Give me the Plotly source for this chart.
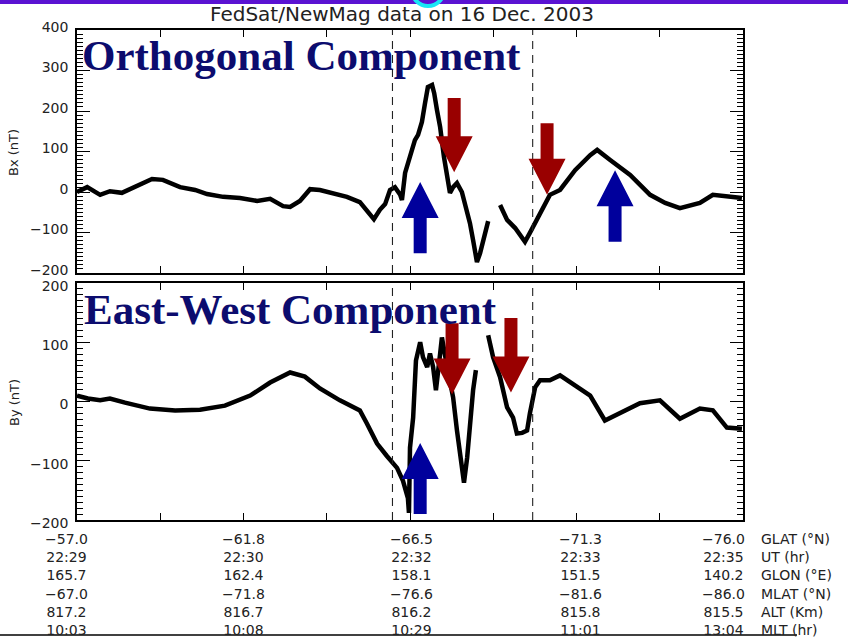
import plotly.graph_objects as go

W, H = 848, 638

# ---- FedSat / NewMag pass, 16 Dec 2003: residual field vs geographic latitude ----
glat_bx = [-57.00, -57.29, -57.66, -57.94, -58.28, -58.71, -59.14, -59.45, -59.94, -60.37,
           -60.71, -61.17, -61.65, -62.14, -62.51, -62.88, -63.08, -63.36, -63.65, -63.93,
           -64.30, -64.70, -65.07, -65.30, -65.47, -65.64, -65.79, -65.93, -66.07, -66.22,
           -66.27, -66.36, -66.50, -66.64, -66.73, -66.84, -66.93, -67.01, -67.13, -67.19,
           -67.27, -67.36, -67.47, -67.56, -67.64, -67.73, -67.84, -67.98, -68.10, -68.21,
           -68.30, -68.41, -68.50, -68.61, -68.73, -68.90,
           -69.07, -69.27, -69.50, -69.78, -69.92, -70.21, -70.49, -70.78, -71.21, -71.64,
           -71.84, -72.21, -72.78, -73.35, -73.78, -74.20, -74.77, -75.14, -75.54, -75.97]
bx = [0, 12, -7, 2, -2, 15, 32, 30, 12, 5,
      -5, -12, -15, -22, -17, -35, -37, -22, 7, 5,
      -2, -12, -25, -49, -67, -44, -30, 5, 12, -7,
      -20, 47, 86, 128, 141, 173, 220, 259, 264, 244,
      202, 160, 86, 30, -2, 12, 22, 0, -37, -77,
      -119, -173, -151, -111, -72, None,
      -32, -69, -89, -123, -101, -52, -7, 5, 54, 91,
      104, 79, 42, -7, -27, -40, -27, -7, -12, -15]

glat_by = [-57.00, -57.31, -57.66, -57.94, -58.37, -59.08, -59.80, -60.51, -61.22, -61.94,
           -62.51, -63.08, -63.50, -63.93, -64.50, -65.07, -65.27, -65.56, -65.84, -66.13,
           -66.30, -66.44, -66.47, -66.50, -66.59, -66.64, -66.67, -66.79, -66.87, -66.99,
           -67.07, -67.16, -67.24, -67.36, -67.41, -67.56, -67.73, -67.84, -67.93, -68.04,
           -68.13, -68.21, -68.30, -68.38, -68.55,
           -68.73, -68.87, -69.07, -69.27, -69.44, -69.55, -69.70, -69.84, -69.92, -70.07,
           -70.21, -70.49, -70.78, -71.21, -71.64, -72.06, -72.49, -73.06, -73.63, -74.20,
           -74.77, -75.14, -75.54, -75.97]
by = [10, 5, 2, 5, -2, -12, -15, -14, -7, 10,
      32, 49, 42, 22, 2, -15, -37, -71, -92, -112,
      -134, -163, -188, -78, -27, 19, 69, 100, 75, 58,
      81, 58, 19, 81, 108, 58, 7, -49, -88, -137,
      -95, -37, 19, 53, None,
      112, 75, 41, -10, -27, -54, -53, -49, -20, 24,
      36, 36, 44, 27, 10, -32, -19, -3, 2, -29,
      -12, -15, -44, -46]

# field-aligned current boundaries (dashed)
boundaries = [-66.0, -70.0]

# x ticks every 2.375 deg of latitude, labelled on every second one
glat_tick_vals = [-57.0 - 2.375 * k for k in range(9)]
label_glat = glat_tick_vals[::2]

row_names = ["GLAT (°N)", "UT (hr)", "GLON (°E)", "MLAT (°N)", "ALT (Km)", "MLT (hr)"]
glat_labels = ["−57.0", "−61.8", "−66.5", "−71.3", "−76.0"]
ut_labels = ["22:29", "22:30", "22:32", "22:33", "22:35"]
glon_labels = ["165.7", "162.4", "158.1", "151.5", "140.2"]
mlat_labels = ["−67.0", "−71.8", "−76.6", "−81.6", "−86.0"]
alt_labels = ["817.2", "816.7", "816.2", "815.8", "815.5"]
mlt_labels = ["10:03", "10:08", "10:29", "11:01", "13:04"]
table_rows = [glat_labels, ut_labels, glon_labels, mlat_labels, alt_labels, mlt_labels]

# arrows: (axis, glat, tip value, tail value, colour)
RED, BLUE = "#990000", "#00009c"
arrows = [
    ("y", -66.79, 25, -151, BLUE),
    ("y", -67.76, 49, 232, RED),
    ("y", -70.41, -7, 170, RED),
    ("y", -72.35, 54, -123, BLUE),
    ("y2", -66.79, -70, -190, BLUE),
    ("y2", -67.70, 12, 132, RED),
    ("y2", -69.38, 15, 141, RED),
]

# ---- layout geometry (pixels) ----
X0, X1 = 77, 743
TOP_Y0, TOP_Y1 = 30, 273      # top panel, screen px (top, bottom)
BOT_Y0, BOT_Y1 = 283, 520
BX_RANGE = [-200, 400]
BY_RANGE = [-200, 200]
X_RANGE = [-57.0, -76.0]


def px(v):
    return v / W


def py(v):
    return 1 - v / H


px_per_deg = (X1 - X0) / abs(X_RANGE[1] - X_RANGE[0])
px_per_unit = {
    "y": (TOP_Y1 - TOP_Y0) / (BX_RANGE[1] - BX_RANGE[0]),
    "y2": (BOT_Y1 - BOT_Y0) / (BY_RANGE[1] - BY_RANGE[0]),
}

TICK_FONT = dict(family="DejaVu Sans", size=14, color="#222")
TABLE_FONT = dict(family="DejaVu Sans", size=14, color="#222")

fig = go.Figure()
fig.add_trace(go.Scatter(x=glat_bx, y=bx, mode="lines", connectgaps=False,
                         line=dict(color="black", width=4.5), xaxis="x", yaxis="y",
                         hoverinfo="skip"))
fig.add_trace(go.Scatter(x=glat_by, y=by, mode="lines", connectgaps=False,
                         line=dict(color="black", width=4.5), xaxis="x2", yaxis="y2",
                         hoverinfo="skip"))
# empty traces so the minor-tick overlay axes get drawn
fig.add_trace(go.Scatter(x=[None], y=[None], xaxis="x", yaxis="y3", showlegend=False))
fig.add_trace(go.Scatter(x=[None], y=[None], xaxis="x2", yaxis="y4", showlegend=False))

xcommon = dict(range=X_RANGE, domain=[px(X0), px(X1)], tickmode="array",
               tickvals=glat_tick_vals, ticks="inside", ticklen=7, tickwidth=1.2,
               tickcolor="black", showticklabels=False, showline=True,
               linecolor="black", linewidth=1.5, mirror="ticks", showgrid=False,
               zeroline=False, automargin=False)


def ycommon(rng, dom, shift):
    return dict(range=rng, domain=dom, tickmode="linear", tick0=0, dtick=100,
                ticks="inside", ticklen=13, tickwidth=1.2, tickcolor="black",
                showline=True, linecolor="black", linewidth=1.5, mirror="ticks",
                showgrid=False, zeroline=False, tickfont=TICK_FONT,
                ticklabelstandoff=4, ticklabelshift=shift, automargin=False)


def yminor(rng, base, anchor):
    return dict(range=rng, overlaying=base, anchor=anchor, side="left",
                tickmode="linear", tick0=0, dtick=10, ticks="inside", ticklen=6,
                tickwidth=1, tickcolor="black", showticklabels=False,
                showline=False, mirror="ticks", showgrid=False, zeroline=False,
                automargin=False)


fig.update_layout(
    template="none",
    width=W, height=H, autosize=False,
    margin=dict(l=0, r=0, t=0, b=0, pad=0, autoexpand=False),
    paper_bgcolor="white", plot_bgcolor="white", showlegend=False,
    xaxis=dict(anchor="y", **xcommon),
    xaxis2=dict(anchor="y2", matches="x", **xcommon),
    yaxis=dict(anchor="x", **ycommon(BX_RANGE, [py(TOP_Y1), py(TOP_Y0)], -3)),
    yaxis2=dict(anchor="x2", **ycommon(BY_RANGE, [py(BOT_Y1), py(BOT_Y0)], 3)),
    yaxis3=yminor(BX_RANGE, "y", "x"),
    yaxis4=yminor(BY_RANGE, "y2", "x2"),
)

shapes = []
# banner strip along the top edge
shapes.append(dict(type="rect", xref="paper", yref="paper", x0=0, x1=1,
                   y0=py(4), y1=1, fillcolor="#5a12d2", line=dict(width=0), layer="above"))
shapes.append(dict(type="circle", xref="paper", yref="paper",
                   x0=px(412), x1=px(444), y0=py(6), y1=py(-26),
                   line=dict(color="#18e6f5", width=4), layer="above"))
# rule under the table
shapes.append(dict(type="line", xref="paper", yref="paper", x0=0, x1=px(797),
                   y0=py(635), y1=py(635), line=dict(color="black", width=1.5)))

# dashed boundaries through both panels
for xa, ya in (("x", "y"), ("x2", "y2")):
    for b in boundaries:
        shapes.append(dict(type="line", xref=xa, yref=f"{ya} domain", x0=b, x1=b,
                           y0=0, y1=1, line=dict(color="#222", width=1.1, dash="8px,6px")))

# block arrows
HEAD_LEN, HEAD_HW, SHAFT_HW = 36, 18.5, 6.5
for ya, gx, tip, tail, col in arrows:
    sgn = 1 if tail > tip else -1
    base = tip + sgn * HEAD_LEN / px_per_unit[ya]
    hh = HEAD_HW / px_per_deg
    sh = SHAFT_HW / px_per_deg
    path = (f"M {gx - sh},{tail} L {gx + sh},{tail} L {gx + sh},{base} "
            f"L {gx + hh},{base} L {gx},{tip} L {gx - hh},{base} "
            f"L {gx - sh},{base} Z")
    xa = "x" if ya == "y" else "x2"
    shapes.append(dict(type="path", xref=xa, yref=ya, path=path, fillcolor=col,
                       line=dict(width=0), layer="above"))

fig.update_layout(shapes=shapes)

ann = []
ann.append(dict(text="FedSat/NewMag data on 16 Dec. 2003", xref="paper", yref="paper",
                x=px(402), y=py(14), xanchor="center", yanchor="middle", showarrow=False,
                font=dict(family="DejaVu Sans", size=20, color="#222")))
big = dict(family="Liberation Serif", size=43, color="#0c0c6e")
ann.append(dict(text="<b>Orthogonal Component</b>", xref="paper", yref="paper",
                x=px(80), y=py(55), xanchor="left", yanchor="middle",
                showarrow=False, font=big))
ann.append(dict(text="<b>East-West Component</b>", xref="paper", yref="paper",
                x=px(82), y=py(309), xanchor="left", yanchor="middle",
                showarrow=False, font=big))
for label, yc in (("Bx (nT)", 153), ("By (nT)", 403)):
    ann.append(dict(text=label, xref="paper", yref="paper", x=px(14), y=py(yc),
                    xanchor="center", yanchor="middle", textangle=-90, showarrow=False,
                    font=dict(family="DejaVu Sans", size=13, color="#222")))

# ephemeris table: one column of stacked values under each labelled tick
TABLE_TOP = 530
col_shift = [-11, 0, 1, 4, -20]
for c, gx in enumerate(label_glat):
    txt = "<br>".join(row[c] for row in table_rows)
    ann.append(dict(text=txt, xref="x", yref="paper", x=gx, y=py(TABLE_TOP),
                    xanchor="center", yanchor="top", xshift=col_shift[c],
                    align="center", showarrow=False, font=TABLE_FONT, borderpad=0))
ann.append(dict(text="<br>".join(row_names), xref="paper", yref="paper", x=px(760),
                y=py(TABLE_TOP), xanchor="left", yanchor="top", align="left",
                showarrow=False, font=TABLE_FONT, borderpad=0))

fig.update_layout(annotations=ann)
fig.write_html("out.html")
